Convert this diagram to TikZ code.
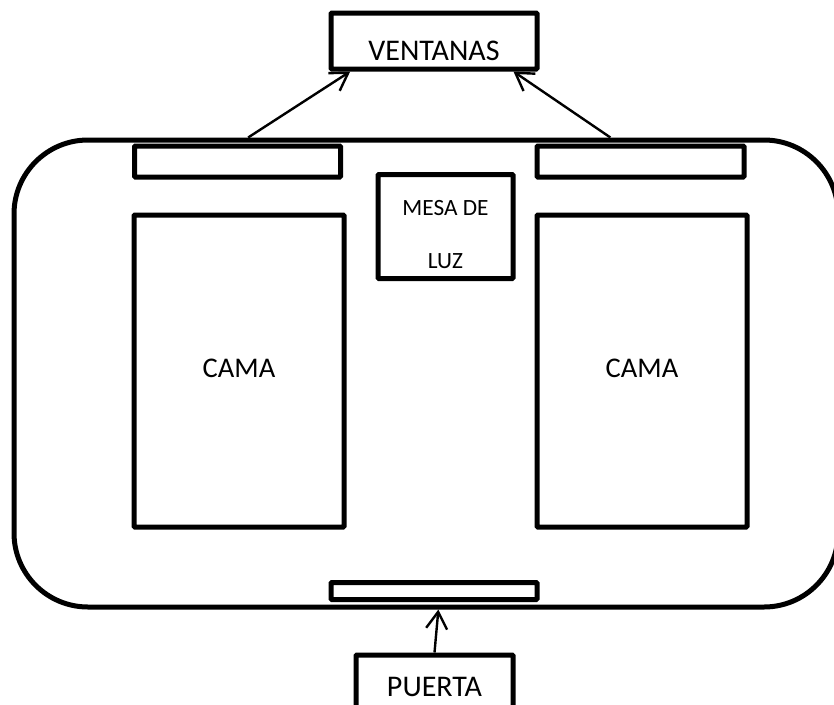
\documentclass[tikz,border=0pt]{standalone}
\usepackage{fontspec}
\setmainfont{Carlito}
\usetikzlibrary{arrows.meta}
\begin{document}
\begin{tikzpicture}[x=1pt,y=-1pt,>={Straight Barb[length=17pt,width=21pt]},
caja/.style={draw,line width=5pt,inner sep=0pt,rounded corners=1pt,font=\fontsize{30}{30}\selectfont},
cama/.style={caja,minimum width=210pt,minimum height=312pt,text height=12pt,text depth=0pt,font=\fontsize{28.5}{30}\selectfont},
flecha/.style={->,line width=2.4pt}]
\clip (0,0) rectangle (834,704);
\node[caja,rounded corners=74pt,minimum width=824pt,minimum height=467pt] (sala) at (426,373.5) {};
\node[caja,minimum width=206pt,minimum height=56pt,text height=38pt,text depth=0pt] (ventanas) at (434,41) {VENTANAS};
\node[caja,minimum width=206pt,minimum height=31pt] (ventanaA) at (237.5,161.5) {};
\node[caja,minimum width=207pt,minimum height=31pt] (ventanaB) at (640.5,161.5) {};
\node[caja,minimum width=135pt,minimum height=104pt,align=center,font=\fontsize{23.3}{53}\selectfont,text height=83pt,text depth=0pt] (mesa) at (445.5,226.5) {MESA DE\\LUZ};
\node[cama] (camaA) at (239,371) {CAMA};
\node[cama] (camaB) at (642,371) {CAMA};
\node[caja,minimum width=206pt,minimum height=17pt] (puerta) at (434,591) {};
\node[caja,minimum width=157pt,minimum height=70pt,text height=13pt,text depth=0pt] (entrada) at (434.5,690) {PUERTA};
\draw[flecha] (sala.127.7) -- (ventanas.-160);
\draw[flecha] (sala.52.4) -- (ventanas.-21.4);
\draw[flecha] (entrada.north) -- (sala.-87.3);
\end{tikzpicture}
\end{document}
